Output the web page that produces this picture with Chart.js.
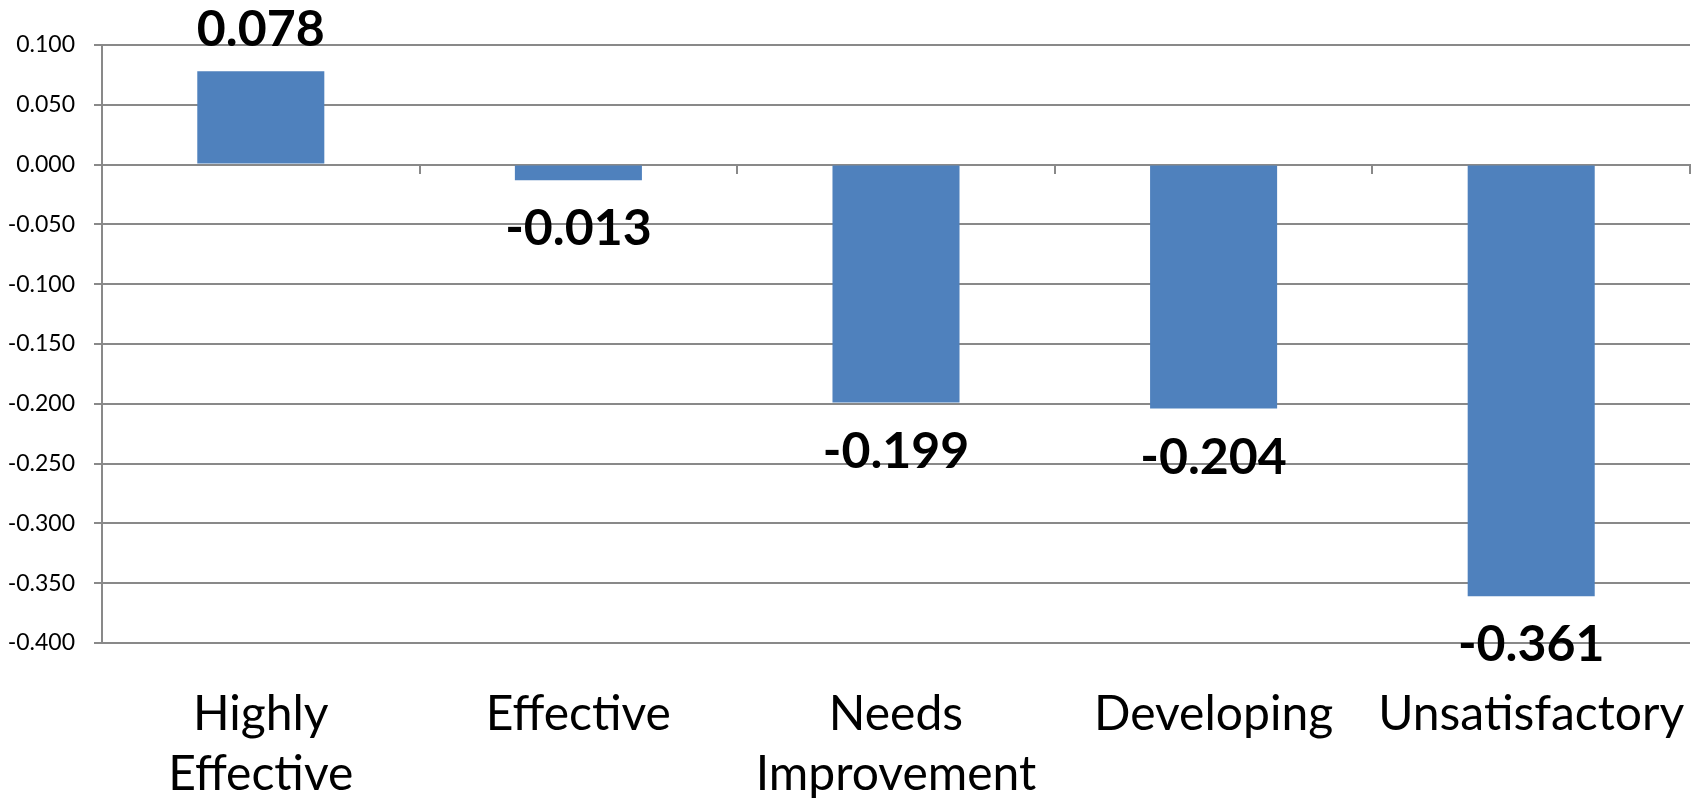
<!DOCTYPE html>
<html>
<head>
<meta charset="utf-8">
<script src="https://cdn.jsdelivr.net/npm/chart.js@4"></script>
<style>
  html, body { margin: 0; padding: 0; background: #fff; }
  #wrap { width: 1703px; height: 801px; position: relative; }
</style>
</head>
<body>
<div id="wrap"><canvas id="ratingChart"></canvas></div>
<script>
// Data
const categories = [['Highly', 'Effective'], 'Effective', ['Needs', 'Improvement'], 'Developing', 'Unsatisfactory'];
const values = [0.078, -0.013, -0.199, -0.204, -0.361];
const yTicks = [0.1, 0.05, 0, -0.05, -0.1, -0.15, -0.2, -0.25, -0.3, -0.35, -0.4];

const axisGray = '#898989';
const fontFamily = 'Lato, "Open Sans", sans-serif';

// value labels above / below each bar end
const valueLabels = {
  id: 'valueLabels',
  afterDatasetsDraw(chart) {
    const ctx = chart.ctx;
    const meta = chart.getDatasetMeta(0);
    ctx.save();
    ctx.font = 'bold 50px ' + fontFamily;
    ctx.fillStyle = '#000';
    ctx.textAlign = 'center';
    ctx.textBaseline = 'middle';
    meta.data.forEach((bar, i) => {
      const v = values[i];
      const y = v >= 0 ? bar.y - 41 : bar.y + 49;
      ctx.fillText(v.toFixed(3), bar.x, y);
    });
    ctx.restore();
  }
};

const ctx = document.getElementById('ratingChart').getContext('2d');
new Chart(ctx, {
  type: 'bar',
  data: {
    labels: categories,
    datasets: [{
      data: values,
      backgroundColor: '#4F81BD',
      borderWidth: 0,
      barPercentage: 0.4,
      categoryPercentage: 1
    }]
  },
  options: {
    responsive: true,
    maintainAspectRatio: false,
    animation: false,
    layout: { padding: { top: 45, right: 13, left: 0, bottom: 0 } },
    plugins: {
      legend: { display: false },
      tooltip: { enabled: false }
    },
    scales: {
      x: {
        grid: { display: false },
        border: { display: false },
        ticks: {
          color: '#000',
          font: { family: fontFamily, size: 48, lineHeight: 1.25 },
          padding: 34,
          maxRotation: 0,
          autoSkip: false
        },
        afterFit: s => { s.height = 158; s.paddingLeft = 0; s.paddingRight = 0; }
      },
      x2: {
        type: 'category',
        axis: 'x',
        position: { y: 0 },
        offset: true,
        grid: { offset: true, drawOnChartArea: false, tickLength: 8, color: axisGray, lineWidth: 2 },
        border: { color: axisGray, width: 2 },
        ticks: { display: false }
      },
      y: {
        min: -0.4,
        max: 0.1,
        afterBuildTicks: s => { s.ticks = yTicks.map(v => ({ value: v })); },
        ticks: {
          color: '#000',
          font: { family: fontFamily, size: 23 },
          padding: 19,
          callback: v => v.toFixed(3)
        },
        grid: { color: axisGray, lineWidth: 2, tickLength: 8 },
        border: { color: axisGray, width: 2 },
        afterFit: s => { s.width = 102; }
      }
    }
  },
  plugins: [valueLabels]
});
</script>
</body>
</html>
